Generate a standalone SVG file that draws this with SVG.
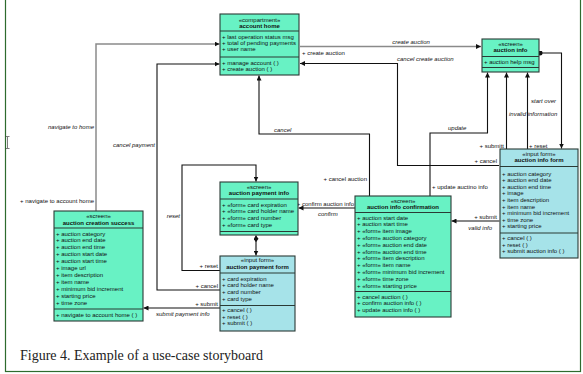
<svg xmlns="http://www.w3.org/2000/svg" width="583" height="374" viewBox="0 0 583 374">
  <style>
    .box-g { fill: #68f2c4; stroke: #2a3a35; stroke-width: 1.1; }
    .box-b { fill: #a6e3e9; stroke: #2a3a35; stroke-width: 1.1; }
    .sep { stroke: #2a3a35; stroke-width: 1; }
    text { font-family: "Liberation Sans", Arial, sans-serif; font-size: 6px; fill: #111; }
    .st { text-anchor: middle; }
    .nm { text-anchor: middle; font-weight: bold; }
    .it { font-style: italic; }
    .end { text-anchor: end; }
    .conn { fill: none; stroke: #111; stroke-width: 1.1; }
    .gray { stroke: #8a8a8a; stroke-width: 1.5; }
    .cap { font-family: "Liberation Serif", "Times New Roman", serif; font-size: 14px; fill: #222; }
  </style>
  <defs>
    <marker id="arr" viewBox="0 0 6 6" refX="6" refY="3" markerWidth="5" markerHeight="5" orient="auto" markerUnits="userSpaceOnUse">
      <path d="M0,0 L6,3 L0,6 z" fill="#111"/>
    </marker>
    <marker id="dia" viewBox="0 0 8 6" refX="0" refY="3" markerWidth="7" markerHeight="5" orient="auto" markerUnits="userSpaceOnUse">
      <path d="M0,3 L4,0 L8,3 L4,6 z" fill="#111"/>
    </marker>
    <marker id="dot" viewBox="0 0 6 6" refX="3" refY="3" markerWidth="5" markerHeight="5" markerUnits="userSpaceOnUse">
      <circle cx="3" cy="3" r="3" fill="#111"/>
    </marker>
  </defs>

  <rect width="583" height="374" fill="#fff"/>
  <!-- page frame -->
  <rect x="5.5" y="-2" width="575" height="373.5" fill="none" stroke="#2e6b2e" stroke-width="1.2"/>
  <!-- text cursor -->
  <g stroke="#444" stroke-width="0.7" fill="none">
    <path d="M7.5,137 V148 M5.5,136.5 H9.5 M5.5,148.5 H9.5"/>
  </g>

  <!-- connectors -->
  <g id="connectors">
    <path class="conn gray" d="M300,46.5 H481" marker-end="url(#arr)"/>
    <path class="conn" d="M499,165.5 H397.5 V63.5 H300" marker-end="url(#arr)"/>
    <path class="conn gray" d="M96,211 V44 H219.5" marker-end="url(#arr)"/>
    <path class="conn" d="M220,290 H157 V64 H219.5" marker-end="url(#arr)"/>
    <path class="conn" d="M369.5,196 V134 H259 V75.5" marker-end="url(#arr)"/>
    <path class="conn" d="M430,196 V133 H487.5 V72.5" marker-end="url(#arr)"/>
    <path class="conn" d="M506.5,149 V72.5" marker-end="url(#arr)"/>
    <path class="conn" d="M527.5,149 V72.5" marker-end="url(#arr)"/>
    <path class="conn" d="M540,53 H561.5 V148.5" marker-start="url(#dot)" marker-end="url(#arr)"/>
    <path class="conn" d="M499.5,221 H451.5" marker-end="url(#arr)"/>
    <path class="conn" d="M355,208 H298.5" marker-end="url(#arr)"/>
    <path class="conn" d="M220,270.5 H182 V165 H256 V181.5" marker-end="url(#arr)"/>
    <path class="conn" d="M256,235.5 V255.5" marker-start="url(#dia)" marker-end="url(#arr)"/>
    <path class="conn" d="M220,308 H143.5" marker-end="url(#arr)"/>

    <text x="411" y="44" class="it st">create auction</text>
    <text x="302" y="55">+ create auction</text>
    <text x="397" y="61" class="it">cancel create auction</text>
    <text x="497" y="163" class="end">+ cancel</text>
    <text x="94" y="129" class="it end">navigate to home</text>
    <text x="94" y="203" class="end">+ navigate to account home</text>
    <text x="155" y="147" class="it end">cancel payment</text>
    <text x="218" y="287.5" class="end">+ cancel</text>
    <text x="274" y="132" class="it">cancel</text>
    <text x="367" y="181" class="end">+ cancel auction</text>
    <text x="448" y="130" class="it">update</text>
    <text x="432" y="189">+ update auctino info</text>
    <text x="504" y="148" class="end">+ submitt</text>
    <text x="529" y="148">+ reset</text>
    <text x="509" y="115.5" class="it">invalid information</text>
    <text x="531" y="102.5" class="it">start over</text>
    <text x="497" y="219" class="end">+ submit</text>
    <text x="492" y="230" class="it end">valid info</text>
    <text x="354" y="205.5" class="end">+ confirm auction info</text>
    <text x="318" y="215.5" class="it">confirm</text>
    <text x="218" y="268" class="end">+ reset</text>
    <text x="180" y="217.5" class="it end">reset</text>
    <text x="218" y="306" class="end">+ submit</text>
    <text x="156" y="315.5" class="it">submit payment info</text>
  </g>

  <!-- account home -->
  <g id="account-home">
    <rect class="box-g" x="220" y="14" width="79" height="61"/>
    <line class="sep" x1="220" y1="31" x2="299" y2="31"/>
    <line class="sep" x1="220" y1="57" x2="299" y2="57"/>
    <text x="259.5" y="21.5" class="st">«compartment»</text>
    <text x="259.5" y="28" class="nm">account home</text>
    <text x="222" y="38.5">+ last operation status msg</text>
    <text x="222" y="44.8">+ total of pending payments</text>
    <text x="222" y="51.1">+ user name</text>
    <text x="222" y="64.5">+ manage account ( )</text>
    <text x="222" y="70.8">+ create auction ( )</text>
  </g>

  <!-- auction info -->
  <g id="auction-info">
    <rect class="box-g" x="482" y="39" width="57" height="33"/>
    <line class="sep" x1="482" y1="56.5" x2="539" y2="56.5"/>
    <line class="sep" x1="482" y1="67.5" x2="539" y2="67.5"/>
    <text x="510.5" y="45.5" class="st">«screen»</text>
    <text x="510.5" y="52" class="nm">auction info</text>
    <text x="484" y="63.5">+ auction help msg</text>
  </g>

  <!-- auction info form -->
  <g id="auction-info-form">
    <rect class="box-b" x="500" y="149" width="78" height="109"/>
    <line class="sep" x1="500" y1="166.5" x2="578" y2="166.5"/>
    <line class="sep" x1="500" y1="233" x2="578" y2="233"/>
    <text x="539" y="155.5" class="st">«input form»</text>
    <text x="539" y="162" class="nm">auction info form</text>
    <text x="502" y="175.5">+ auction category</text>
    <text x="502" y="182.1">+ auction end date</text>
    <text x="502" y="188.7">+ auction end time</text>
    <text x="502" y="195.3">+ image</text>
    <text x="502" y="201.9">+ item description</text>
    <text x="502" y="208.5">+ item name</text>
    <text x="502" y="215.1">+ minimum bid increment</text>
    <text x="502" y="221.7">+ time zone</text>
    <text x="502" y="228.3">+ starting price</text>
    <text x="502" y="240">+ cancel ( )</text>
    <text x="502" y="246.5">+ reset ( )</text>
    <text x="502" y="253">+ submit auction info ( )</text>
  </g>

  <!-- auction info confirmation -->
  <g id="auction-info-confirmation">
    <rect class="box-g" x="355" y="196" width="96" height="121"/>
    <line class="sep" x1="355" y1="212.5" x2="451" y2="212.5"/>
    <line class="sep" x1="355" y1="291.5" x2="451" y2="291.5"/>
    <text x="403" y="202.5" class="st">«screen»</text>
    <text x="403" y="209" class="nm">auction info confirmation</text>
    <text x="357" y="219.5">+ auction start date</text>
    <text x="357" y="226.3">+ auction start time</text>
    <text x="357" y="233.1">+ «form» item image</text>
    <text x="357" y="239.9">+ «form» auction category</text>
    <text x="357" y="246.7">+ «form» auction end date</text>
    <text x="357" y="253.5">+ «form» auction end time</text>
    <text x="357" y="260.3">+ «form» item description</text>
    <text x="357" y="267.1">+ «form» item name</text>
    <text x="357" y="273.9">+ «form» minimum bid increment</text>
    <text x="357" y="280.7">+ «form» time zone</text>
    <text x="357" y="287.5">+ «form» starting price</text>
    <text x="357" y="298.5">+ cancel auction ( )</text>
    <text x="357" y="305">+ confirm auction info ( )</text>
    <text x="357" y="311.5">+ update auction info ( )</text>
  </g>

  <!-- auction payment info -->
  <g id="auction-payment-info">
    <rect class="box-g" x="220" y="182" width="78" height="53"/>
    <line class="sep" x1="220" y1="199" x2="298" y2="199"/>
    <line class="sep" x1="220" y1="231.5" x2="298" y2="231.5"/>
    <text x="259" y="188.5" class="st">«screen»</text>
    <text x="259" y="195" class="nm">auction payment info</text>
    <text x="222" y="206.5">+ «form» card expiration</text>
    <text x="222" y="213.3">+ «form» card holder name</text>
    <text x="222" y="220.1">+ «form» card number</text>
    <text x="222" y="226.9">+ «form» card type</text>
  </g>

  <!-- auction payment form -->
  <g id="auction-payment-form">
    <rect class="box-b" x="220" y="256" width="75" height="75"/>
    <line class="sep" x1="220" y1="273" x2="295" y2="273"/>
    <line class="sep" x1="220" y1="305.5" x2="295" y2="305.5"/>
    <text x="257.5" y="262" class="st">«input form»</text>
    <text x="257.5" y="269" class="nm">auction payment form</text>
    <text x="222" y="280.5">+ card expiration</text>
    <text x="222" y="287.2">+ card holder name</text>
    <text x="222" y="293.9">+ card number</text>
    <text x="222" y="300.6">+ card type</text>
    <text x="222" y="312">+ cancel ( )</text>
    <text x="222" y="318.6">+ reset ( )</text>
    <text x="222" y="325.2">+ submit ( )</text>
  </g>

  <!-- auction creation success -->
  <g id="auction-creation-success">
    <rect class="box-g" x="54" y="211" width="89" height="110"/>
    <line class="sep" x1="54" y1="228" x2="143" y2="228"/>
    <line class="sep" x1="54" y1="309" x2="143" y2="309"/>
    <text x="98.5" y="217.5" class="st">«screen»</text>
    <text x="98.5" y="224.5" class="nm">auction creation success</text>
    <text x="56" y="235.5">+ auction category</text>
    <text x="56" y="242.4">+ auction end date</text>
    <text x="56" y="249.3">+ auction end time</text>
    <text x="56" y="256.2">+ auction start date</text>
    <text x="56" y="263.1">+ auction start time</text>
    <text x="56" y="270">+ image url</text>
    <text x="56" y="276.9">+ item description</text>
    <text x="56" y="283.8">+ item name</text>
    <text x="56" y="290.7">+ minimum bid increment</text>
    <text x="56" y="297.6">+ starting price</text>
    <text x="56" y="304.5">+ time zone</text>
    <text x="56" y="316.5">+ navigate to account home ( )</text>
  </g>

  <text x="20" y="360" class="cap">Figure 4. Example of a use-case storyboard</text>
</svg>
